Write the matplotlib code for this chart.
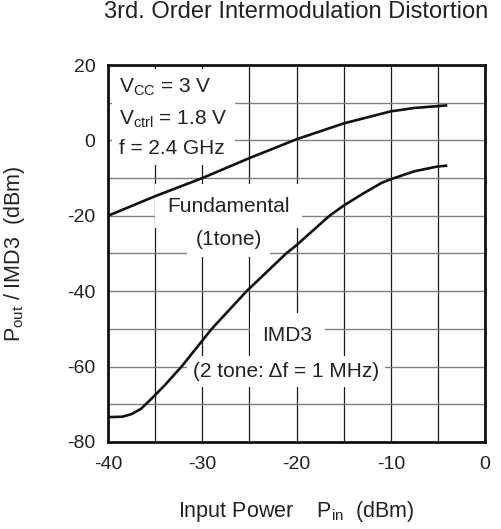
import matplotlib
matplotlib.use('Agg')
import matplotlib.pyplot as plt
from matplotlib.ticker import MultipleLocator

plt.rcParams['font.family'] = ['Liberation Sans', 'DejaVu Sans']
plt.rcParams['mathtext.fontset'] = 'custom'
plt.rcParams['mathtext.rm'] = 'Liberation Sans'
plt.rcParams['mathtext.it'] = 'Liberation Sans:italic'
plt.rcParams['mathtext.bf'] = 'Liberation Sans:bold'
plt.rcParams['axes.unicode_minus'] = False

# data
fund_pin = [-40, -35, -30, -25, -20, -15, -10, -7.5, -5, -4]
fund_pout = [-20, -14.8, -10, -4.7, 0.3, 4.5, 7.7, 8.6, 9.1, 9.3]

imd_pin = [-40, -38.5, -37.5, -36.5, -35.5, -34, -32.2, -29, -25.3, -21.1,
           -20, -18.3, -16.5, -15, -13, -11, -10, -7.5, -5, -4]
imd_out = [-73.4, -73.3, -72.6, -71.2, -68.8, -65, -60, -50, -40, -30,
           -27.8, -24, -20, -17.3, -14.2, -11.3, -10.3, -8.2, -6.9, -6.7]

x_ticks = [-40, -30, -20, -10, 0]
y_ticks = [20, 0, -20, -40, -60, -80]

txt = '#222222'

fig = plt.figure(figsize=(5.01, 5.29), dpi=100)
ax = fig.add_axes([108 / 501, 87 / 529, 377 / 501, 377 / 529])

ax.set_xlim(-40, 0)
ax.set_ylim(-80, 20)
ax.set_xticks(x_ticks)
ax.set_yticks(y_ticks)
ax.xaxis.set_minor_locator(MultipleLocator(5))
ax.yaxis.set_minor_locator(MultipleLocator(10))
ax.tick_params(which='both', length=0, labelsize=14, labelcolor=txt)
ax.tick_params(axis='x', pad=10)
ax.tick_params(axis='y', pad=9)

ax.set_axisbelow(True)
ax.grid(axis='x', which='both', color='#1a1a1a', lw=0.9)
ax.grid(axis='y', which='both', color='#808080', lw=1.0)
for s in ax.spines.values():
    s.set_linewidth(2.0)
    s.set_color('#111111')

ax.plot(fund_pin, fund_pout, color='#111111', lw=1.9, zorder=4,
        solid_capstyle='butt')
ax.plot(imd_pin, imd_out, color='#111111', lw=1.9, zorder=4,
        solid_capstyle='butt')

# labels with white backgrounds that cut the grid
ax.text(-38.8, 16.9, '$\\mathrm{V_{CC}}$ = 3 V\n$\\mathrm{V_{ctrl}}$ = 1.8 V\nf = 2.4 GHz',
        ha='left', va='top', fontsize=15, color=txt, linespacing=1.65,
        zorder=3, bbox=dict(facecolor='white', edgecolor='none', pad=5))
ax.text(-27.2, -17.5, 'Fundamental', ha='center', va='center',
        fontsize=15, color=txt, zorder=3,
        bbox=dict(facecolor='white', edgecolor='none', pad=9))
ax.text(-27.2, -26.3, '(1tone)', ha='center', va='center',
        fontsize=15, color=txt, zorder=3,
        bbox=dict(facecolor='white', edgecolor='none', pad=6))
ax.text(-21.0, -51.7, 'IMD3', ha='center', va='center',
        fontsize=15, color=txt, zorder=3,
        bbox=dict(facecolor='white', edgecolor='none', pad=9))
ax.text(-21.1, -61.3, '(2 tone: \u0394f = 1 MHz)', ha='center', va='center',
        fontsize=15, color=txt, zorder=3,
        bbox=dict(facecolor='white', edgecolor='none', pad=4))

ax.set_title('3rd. Order Intermodulation Distortion', fontsize=17,
             color=txt, pad=34)
ax.set_xlabel('Input Power    P$_{\\mathrm{in}}$  (dBm)', fontsize=15.5,
              color=txt)
ax.xaxis.set_label_coords(0.5, -0.15)
ax.set_ylabel('P$_{\\mathrm{out}}$ / IMD3  (dBm)', fontsize=15.5, color=txt)
ax.yaxis.set_label_coords(-0.215, 0.5)

fig.savefig('out.png', dpi=100)
